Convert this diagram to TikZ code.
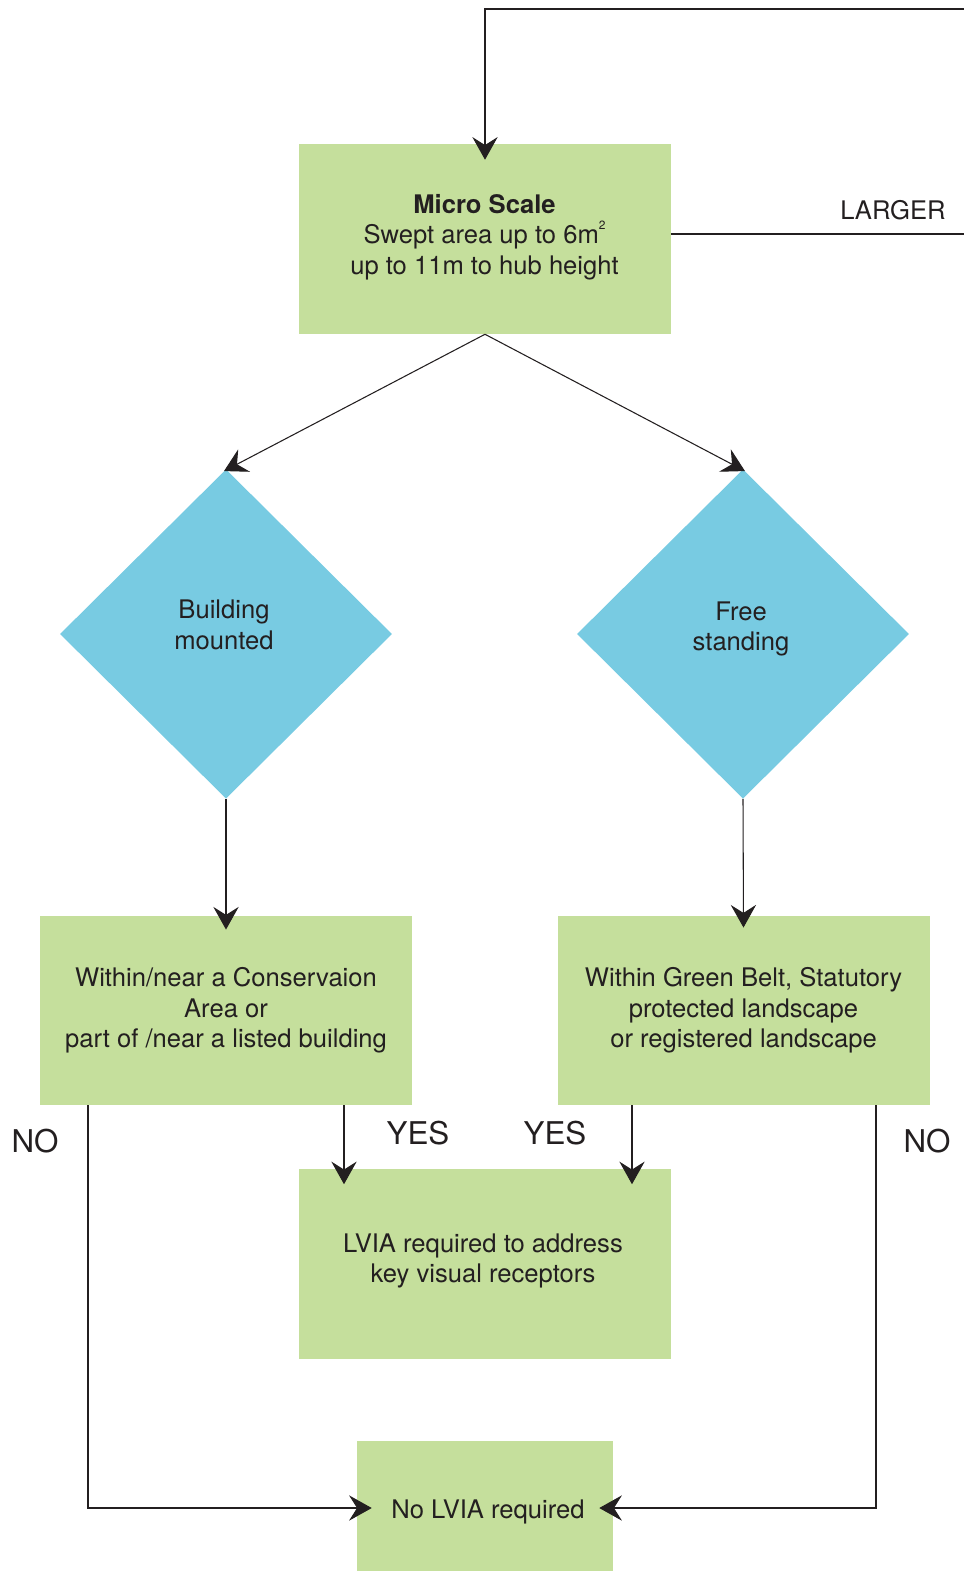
\documentclass[tikz,border=0pt]{standalone}
\usepackage{fontspec}
\setmainfont{TeX Gyre Heros}
\usetikzlibrary{shapes.geometric,arrows.meta,calc}
\definecolor{boxgreen}{RGB}{197,223,156}
\definecolor{diablue}{RGB}{120,203,226}
\definecolor{ink}{RGB}{35,31,32}

\begin{document}
\begin{tikzpicture}[x=0.75pt,y=-0.75pt,
  box/.style={rectangle, fill=boxgreen, inner sep=0pt, align=center, text=ink,
              font=\fontsize{19.2}{23}\selectfont},
  dia/.style={diamond, aspect=1, fill=diablue, inner sep=0pt,
              minimum width=249pt, minimum height=247pt},
  txt/.style={text=ink, align=center, inner sep=0pt, font=\fontsize{19.2}{23}\selectfont},
  big/.style={text=ink, inner sep=0pt, font=\fontsize{23.5}{26}\selectfont},
  conn/.style={draw=ink, line width=0.8pt},
  arr/.style={conn, -{Stealth[length=17pt,width=19pt,inset=6pt]}}]

\useasboundingbox (0,0) rectangle (964,1571);

% boxes
\node[box, minimum width=279pt, minimum height=142.5pt] (micro) at (485,239) {};
\node[txt] (microtxt) at (484.5,237) {\textbf{Micro Scale}\\Swept area up to 6m\raisebox{0.55em}{\fontsize{9}{9}\selectfont 2}\\up to 11m to hub height};

\node[dia] (ldia) at (226,634) {};
\node[txt] (ldiatxt) at (224,625) {Building\\ mounted};
\node[dia] (rdia) at (743,634) {};
\node[txt] (rdiatxt) at (741,629) {Free\\standing};

\node[box, minimum width=279pt, minimum height=142pt] (lbox) at (226,1010.5)
  {Within/near a Conservaion\\Area or\\part of /near a listed building};
\node[box, minimum width=279pt, minimum height=142pt] (rbox) at (743.5,1010.5)
  {Within Green Belt, Statutory\\protected landscape\\or registered landscape};

\node[box, minimum width=279pt, minimum height=142.5pt] (lvia) at (485,1263.5) {};
\node[txt] (lviatxt) at (483,1261) {LVIA required to address\\key visual receptors};

\node[box, minimum width=192pt, minimum height=100pt] (nolvia) at (485,1508) {};
\node[txt] (nolviatxt) at (488,1512) {No LVIA required};

% labels
\node[txt] (larger) at (893,210) {LARGER};
\node[big] (yesl) at (418,1133) {YES};
\node[big] (yesr) at (555,1133) {YES};
\node[big] (nol) at (35,1141) {NO};
\node[big] (nor) at (927,1141) {NO};

% loop back from the right and the LARGER exit
\coordinate (topright) at (970,9);
\coordinate (largerend) at (970,234);
\draw[arr] (topright) -| ($(micro.north)+(0,16)$);
\draw[conn] (micro.east |- largerend) -- (largerend);

% branches to the two diamonds
\draw[arr] (micro.south) -- ($(ldia.north)+(-2,2)$);
\draw[arr] (micro.south) -- ($(rdia.north)+(2,2)$);

% diamonds down to the question boxes
\draw[arr] (ldia.south) -- ($(lbox.north)+(0,14)$);
\draw[arr] (rdia.south) -- ($(rbox.north)+(0,12)$);

% YES paths
\coordinate (lyes) at (344,1105);
\coordinate (ryes) at (632,1105);
\draw[arr] (lyes) -- (lyes |- {$(lvia.north)+(0,16)$});
\draw[arr] (ryes) -- (ryes |- {$(lvia.north)+(0,16)$});

% NO paths
\coordinate (lno) at (88,1105);
\coordinate (rno) at (876,1105);
\draw[arr] (lno) |- ($(nolvia.west)+(15,0)$);
\draw[arr] (rno) |- ($(nolvia.east)+(-14,0)$);
\end{tikzpicture}
\end{document}
